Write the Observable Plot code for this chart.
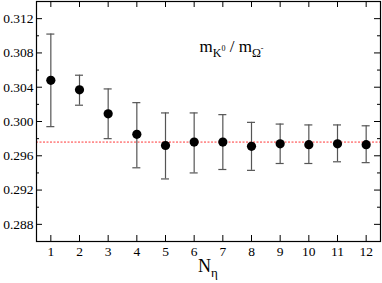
<!DOCTYPE html>
<html><head><meta charset="utf-8">
<script src="https://cdn.jsdelivr.net/npm/d3@7"></script>
<script src="https://cdn.jsdelivr.net/npm/@observablehq/plot@0.6"></script>
<style>
body{margin:0;background:#fff}
svg{display:block}
#chart svg, #chart svg text{font-family:"Liberation Serif", serif !important;}
</style>
</head><body><div id="chart"></div>
<script>
const nEta   = [1, 2, 3, 4, 5, 6, 7, 8, 9, 10, 11, 12];
const ratio  = [0.3048, 0.3037, 0.3009, 0.2985, 0.2972, 0.2976, 0.2976, 0.2971, 0.2974, 0.2973, 0.2974, 0.2973];
const upper  = [0.3102, 0.3054, 0.3038, 0.3022, 0.3010, 0.3010, 0.3008, 0.2999, 0.2997, 0.2996, 0.2996, 0.2995];
const lower  = [0.2994, 0.3019, 0.2980, 0.2946, 0.2933, 0.2940, 0.2944, 0.2943, 0.2951, 0.2951, 0.2953, 0.2952];
const refLine = [0.2976];
const xTicks = [1, 2, 3, 4, 5, 6, 7, 8, 9, 10, 11, 12];
const yMajor = [0.288, 0.292, 0.296, 0.300, 0.304, 0.308, 0.312];
const yMinor = [0.290, 0.294, 0.298, 0.302, 0.306, 0.310];
const xLabelMain = "N", xLabelSub = "η";
const annParts = [["m", "base"], ["K", "sub"], ["0", "sup"], [" / m", "base"], ["Ω", "sub"], ["-", "sup"]];
const annPos = [7.32, 0.3080];

const rows = nEta.map((n, i) => ({n, v: ratio[i], hi: upper[i], lo: lower[i]}));

const W = 382, H = 283, mL = 36, mR = 2, mT = 1, mB = 42;
const pw = W - mL - mR, ph = H - mT - mB;
const capHalf = 0.14;

const plot = Plot.plot({
  width: W, height: H,
  marginLeft: mL, marginRight: mR, marginTop: mT, marginBottom: mB,
  style: "font-family:'Liberation Serif',serif;font-size:13.5px;background:#fff;color:#000;",
  x: {domain: [0.5, 12.5]},
  y: {domain: [0.286, 0.314]},
  marks: [
    Plot.ruleY(refLine, {y: d => d, stroke: "#ff2020", strokeDasharray: "2,1.5", strokeWidth: 0.9}),
    Plot.ruleX(rows, {x: "n", y1: "lo", y2: "hi", stroke: "#555", strokeWidth: 1.2}),
    Plot.ruleY(rows, {y: "hi", x1: d => d.n - capHalf, x2: d => d.n + capHalf, stroke: "#555", strokeWidth: 1.2}),
    Plot.ruleY(rows, {y: "lo", x1: d => d.n - capHalf, x2: d => d.n + capHalf, stroke: "#555", strokeWidth: 1.2}),
    Plot.dot(rows, {x: "n", y: "v", r: 4.6, fill: "#000", stroke: "none"}),
    Plot.axisX(xTicks, {tickSize: 0, tickPadding: 5, label: null, fontSize: 13.5, tickFormat: d => String(d)}),
    Plot.axisY(yMajor, {tickSize: 0, tickPadding: 3, label: null, fontSize: 13.5, tickFormat: d3.format(".3f")}),
    Plot.tickX(xTicks, {x: d => d, insetBottom: ph - 6, stroke: "#000"}),
    Plot.tickX(xTicks, {x: d => d, insetTop: ph - 6, stroke: "#000"}),
    Plot.tickY(yMajor, {y: d => d, insetRight: pw - 6, stroke: "#000"}),
    Plot.tickY(yMinor, {y: d => d, insetRight: pw - 3, stroke: "#000"}),
    Plot.tickY(yMajor, {y: d => d, insetLeft: pw - 6, stroke: "#000"}),
    Plot.tickY(yMinor, {y: d => d, insetLeft: pw - 3, stroke: "#000"}),
    Plot.frame({stroke: "#000", strokeWidth: 1.2})
  ]
});
document.getElementById("chart").appendChild(plot);

const svg = d3.select(plot);
const xs = plot.scale("x"), ys = plot.scale("y");

// x-axis label with subscript
const xl = svg.append("text")
  .attr("x", (mL + W - mR) / 2).attr("y", 272)
  .attr("text-anchor", "middle")
  .attr("font-family", "Liberation Serif").attr("font-size", 18).attr("fill", "#000");
xl.append("tspan").text(xLabelMain);
xl.append("tspan").attr("dy", 5).attr("font-size", 13).text(xLabelSub);

// annotation
const at = svg.append("text")
  .attr("x", xs.apply(annPos[0])).attr("y", ys.apply(annPos[1]))
  .attr("font-family", "Liberation Serif").attr("font-size", 17).attr("fill", "#000")
  .attr("style", "white-space:pre");
let level = 0;
const off = {base: 0, sub: 5, sup: -1};
const size = {base: 17, sub: 12, sup: 8};
for (const [t, k] of annParts) {
  at.append("tspan").attr("dy", off[k] - level).attr("font-size", size[k]).text(t);
  level = off[k];
}
</script>
</body></html>
